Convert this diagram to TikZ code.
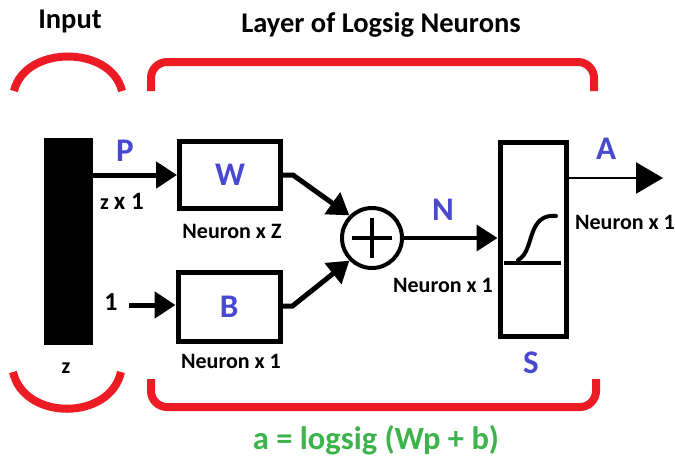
\documentclass[tikz,border=0pt]{standalone}
\usepackage{fontspec}
\setmainfont{Carlito}
\usetikzlibrary{arrows.meta}
\definecolor{bracketred}{RGB}{237,28,36}
\definecolor{sigblue}{RGB}{72,72,210}
\definecolor{eqgreen}{RGB}{60,180,75}
\tikzset{
  title/.style={font=\bfseries\fontsize{28.5}{32}\selectfont, text=black},
  sym/.style={font=\bfseries\fontsize{33}{36}\selectfont, text=sigblue},
  dimlabel/.style={font=\bfseries\fontsize{22}{24}\selectfont, text=black, inner sep=0pt},
  block/.style={draw=black, line width=5pt, fill=white, inner sep=0pt},
  brace/.style={draw=bracketred, line width=8pt},
  wire/.style={draw=black, line width=5pt, -{Triangle[length=21pt,width=26pt]}},
}
\begin{document}
\begin{tikzpicture}[x=1pt, y=-1pt]
\useasboundingbox (0,0) rectangle (676,463);

% titles
\node[title] (tin) at (70,21) {Input};
\node[title] (tlayer) at (381,25) {Layer of Logsig Neurons};

% red braces
\draw[brace] (14,91) .. controls (25,45) and (111,45) .. (122,91);
\draw[brace] (13,372) .. controls (24,421) and (110,421) .. (121,372);
\draw[brace, rounded corners=16pt] (151,91) |- (594,62) -- (594,91);
\draw[brace, rounded corners=16pt] (151,379) |- (596,407) -- (596,379);

% input vector
\node[fill=black, minimum width=49pt, minimum height=207pt, inner sep=0pt] (bar) at (68.5,241) {};
\node[dimlabel] (zin) at (66,368) {z};

% weight and bias blocks
\node[block, minimum width=101pt, minimum height=67pt] (W) at (230,175) {};
\node[sym] at (W) {W};
\node[dimlabel] (wdim) at (232,231) {Neuron x Z};

\node[block, minimum width=102pt, minimum height=69pt] (B) at (229,306.5) {};
\node[sym] at (B) {B};
\node[dimlabel] (bdim) at (231,361) {Neuron x 1};

% summing junction
\node[circle, draw=black, line width=4pt, minimum size=60pt, inner sep=0pt] (sum) at (372,238) {};
\draw[line width=4pt] ([xshift=-20pt]sum.center) -- ([xshift=20pt]sum.center)
                      ([yshift=-20pt]sum.center) -- ([yshift=20pt]sum.center);

% transfer function block
\node[block, minimum width=66pt, minimum height=194pt] (S) at (533,239) {};
\node[sym] (slabel) at (531,363) {S};
\draw[line width=4pt] (504,263) -- (561,263);
\draw[line width=4pt, line cap=round] (518,260) .. controls (528,255) and (529,240) .. (534,229)
      .. controls (539,218) and (547,215) .. (556,216);

% connectors
\draw[wire] (bar.east |- W.west) -- (W.west);
\node[sym] (P) at (125,151) {P};
\node[dimlabel] (pdim) at (122,201) {z {\fontsize{25}{26}\selectfont x 1}};

\node[dimlabel, font=\bfseries\fontsize{26}{28}\selectfont] (one) at (111,302) {1};
\coordinate (bstart) at (129,305);
\draw[wire] (bstart) -- (B.west |- bstart);

\draw[wire] (W.east) -- ++(10,0) -- (sum.135);
\draw[wire] (B.east |- 0,306) -- ++(10,0) -- (sum.225);

\draw[wire, line width=4pt] (sum.east) -- (S.west |- sum.east);
\node[sym] (N) at (443,210) {N};
\node[dimlabel] (ndim) at (443,285) {Neuron x 1};

\coordinate (aend) at (663,178);
\draw[line width=2.5pt, -{Triangle[length=27pt,width=31pt]}] (S.east |- aend) -- (aend);
\node[sym] (A) at (606,149) {A};
\node[dimlabel] (adim) at (625,222) {Neuron x 1};

% transfer equation
\node[font=\bfseries\fontsize{32.5}{36}\selectfont, text=eqgreen] (eq) at (376,440) {a = logsig (Wp + b)};
\end{tikzpicture}
\end{document}
